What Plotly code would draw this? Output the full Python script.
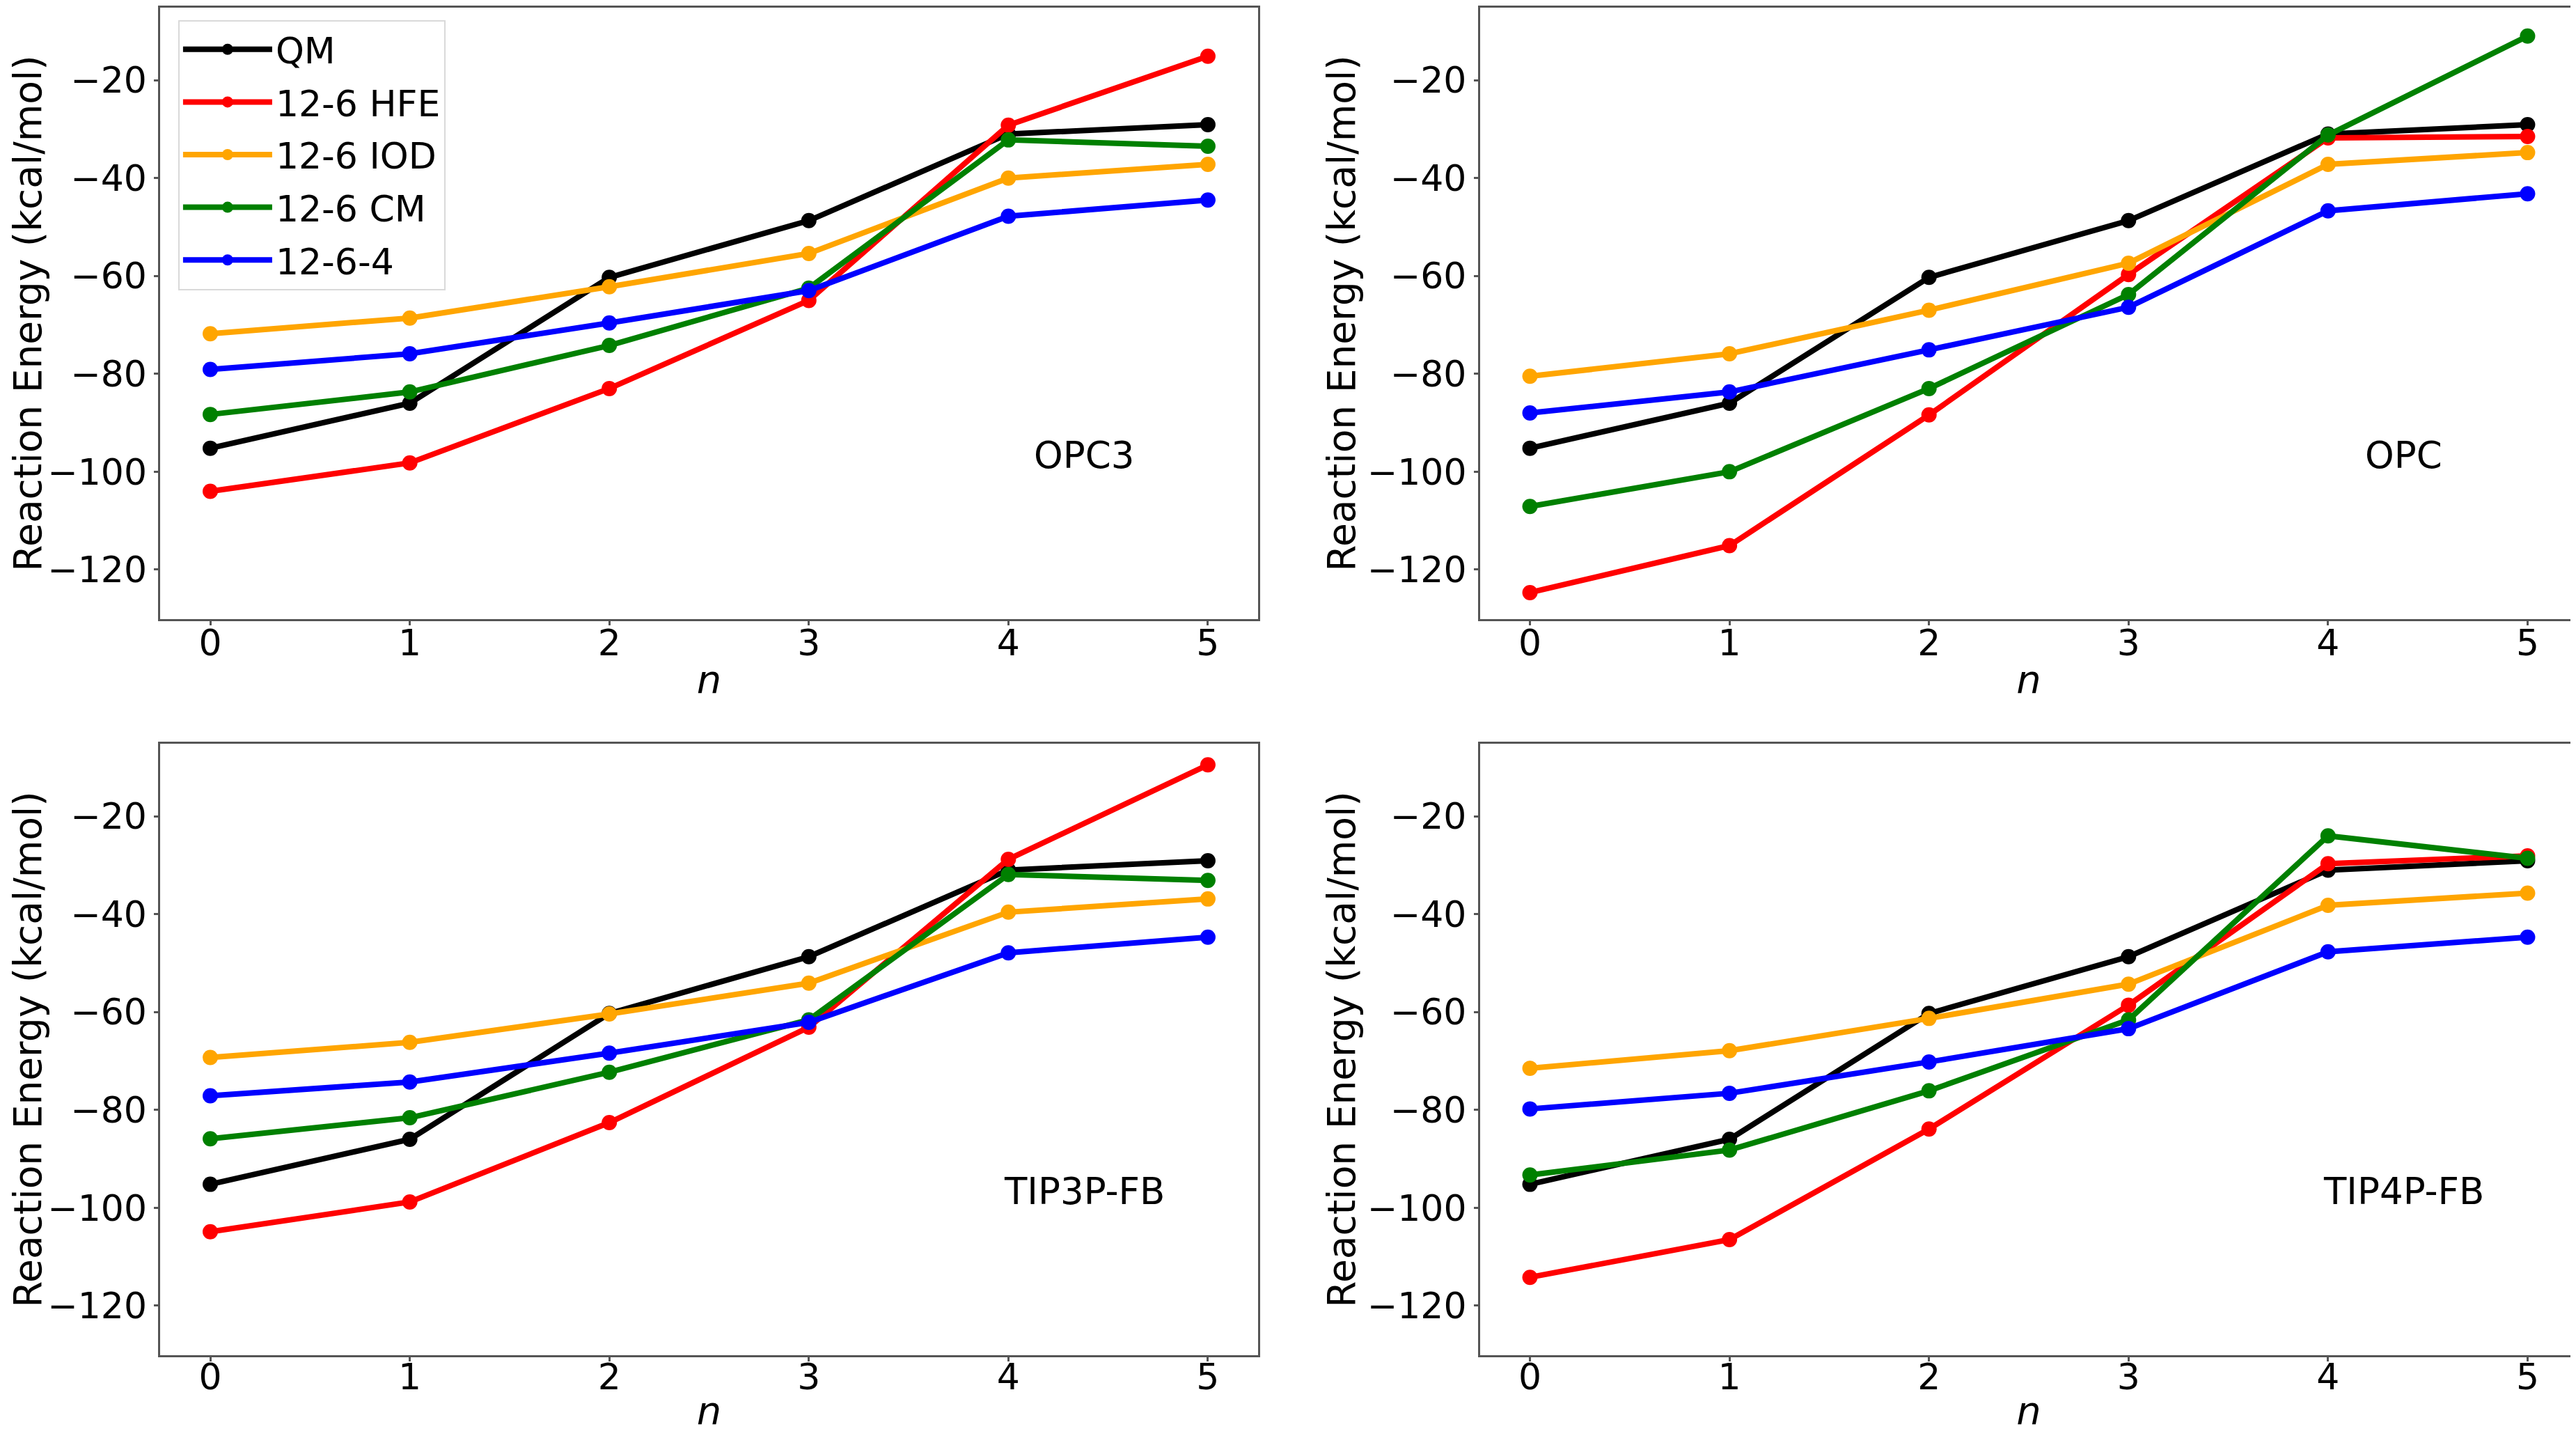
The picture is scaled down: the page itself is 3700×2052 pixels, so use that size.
import plotly.graph_objects as go

n_values = [0, 1, 2, 3, 4, 5]
series_names = ["QM", "12-6 HFE", "12-6 IOD", "12-6 CM", "12-6-4"]
series_colors = ["#000000", "#ff0000", "#ffa500", "#008000", "#0000ff"]
panel_labels = ["OPC3", "OPC", "TIP3P-FB", "TIP4P-FB"]

# OPC3
opc3_qm = [-95.2, -86.0, -60.3, -48.7, -31.0, -29.1]
opc3_hfe = [-104.0, -98.2, -83.0, -65.0, -29.2, -15.1]
opc3_iod = [-71.8, -68.6, -62.2, -55.4, -40.0, -37.2]
opc3_cm = [-88.3, -83.7, -74.2, -62.5, -32.2, -33.5]
opc3_1264 = [-79.1, -75.9, -69.6, -63.0, -47.8, -44.5]

# OPC
opc_qm = [-95.2, -86.0, -60.3, -48.7, -31.0, -29.1]
opc_hfe = [-124.7, -115.1, -88.4, -59.7, -31.8, -31.5]
opc_iod = [-80.5, -75.9, -67.0, -57.4, -37.2, -34.8]
opc_cm = [-107.1, -100.0, -83.0, -63.8, -31.2, -11.0]
opc_1264 = [-88.0, -83.7, -75.1, -66.4, -46.7, -43.2]

# TIP3P-FB
tip3p_qm = [-95.2, -86.0, -60.3, -48.7, -31.0, -29.1]
tip3p_hfe = [-104.9, -98.8, -82.6, -63.1, -28.8, -9.5]
tip3p_iod = [-69.3, -66.2, -60.4, -54.1, -39.6, -36.9]
tip3p_cm = [-85.9, -81.6, -72.3, -61.6, -31.9, -33.1]
tip3p_1264 = [-77.1, -74.3, -68.4, -62.1, -47.9, -44.7]

# TIP4P-FB
tip4p_qm = [-95.2, -86.0, -60.3, -48.7, -31.0, -29.1]
tip4p_hfe = [-114.2, -106.5, -83.9, -58.6, -29.7, -28.1]
tip4p_iod = [-71.5, -67.9, -61.3, -54.3, -38.2, -35.7]
tip4p_cm = [-93.3, -88.2, -76.1, -61.6, -24.0, -28.6]
tip4p_1264 = [-79.8, -76.6, -70.2, -63.4, -47.7, -44.7]

panels = [
    [opc3_qm, opc3_hfe, opc3_iod, opc3_cm, opc3_1264],
    [opc_qm, opc_hfe, opc_iod, opc_cm, opc_1264],
    [tip3p_qm, tip3p_hfe, tip3p_iod, tip3p_cm, tip3p_1264],
    [tip4p_qm, tip4p_hfe, tip4p_iod, tip4p_cm, tip4p_1264],
]

x_ticks = [0, 1, 2, 3, 4, 5]
y_ticks = [-120, -100, -80, -60, -40, -20]
y_tick_text = ["\u2212120", "\u2212100", "\u221280", "\u221260", "\u221240", "\u221220"]

W, H = 3700, 2052
FONT = "DejaVu Sans"

x_domains = [[0.0601, 0.4861], [0.5724, 0.9984], [0.0601, 0.4861], [0.5724, 0.9984]]
y_domains = [[0.5707, 0.9985], [0.5707, 0.9985], [0.0556, 0.4834], [0.0556, 0.4834]]

fig = go.Figure()

for p, data in enumerate(panels):
    ax = "" if p == 0 else str(p + 1)
    for s, (name, color) in enumerate(zip(series_names, series_colors)):
        fig.add_trace(go.Scatter(
            x=n_values, y=data[s], mode="lines+markers", name=name,
            line=dict(color=color, width=8),
            marker=dict(color=color, size=22),
            xaxis="x" + ax, yaxis="y" + ax,
            legendgroup=name, showlegend=(p == 0),
        ))
    fig.add_annotation(
        x=4.38, y=-96.6, xref="x" + ax, yref="y" + ax, text=panel_labels[p],
        showarrow=False, xanchor="center", yanchor="middle",
        font=dict(family=FONT, size=53, color="black"),
    )

axis_common = dict(showgrid=False, zeroline=False, showline=True, mirror=True,
                   linecolor="#555555", linewidth=3, ticks="outside", ticklen=6,
                   tickwidth=2.5, tickcolor="#555555",
                   tickfont=dict(family=FONT, size=52, color="black"))

layout = dict(
    width=W, height=H, margin=dict(l=0, r=0, t=0, b=0),
    paper_bgcolor="white", plot_bgcolor="white",
    font=dict(family=FONT, color="black"),
    legend=dict(x=0.067, y=0.990, xanchor="left", yanchor="top",
                bgcolor="white", bordercolor="#d9d9d9", borderwidth=2,
                font=dict(family=FONT, size=52, color="black"),
                tracegroupgap=5, itemwidth=128, itemsizing="trace"),
)
for p in range(4):
    ax = "" if p == 0 else str(p + 1)
    bottom_row = p >= 2
    layout["xaxis" + ax] = dict(
        axis_common, domain=x_domains[p], range=[-0.25, 5.25],
        anchor="y" + ax, tickvals=x_ticks, automargin=False,
        ticklabelstandoff=-22 if bottom_row else -19,
        title=dict(text="<i>n</i>", font=dict(family=FONT, size=56),
                   standoff=0 if bottom_row else 4),
    )
    layout["yaxis" + ax] = dict(
        axis_common, domain=y_domains[p], range=[-130.1, -5.2],
        anchor="x" + ax, tickvals=y_ticks, ticktext=y_tick_text, automargin=False,
        title=dict(text="Reaction Energy (kcal/mol)", font=dict(family=FONT, size=55), standoff=0),
    )

fig.update_layout(**layout)
fig.write_html("out.html")
